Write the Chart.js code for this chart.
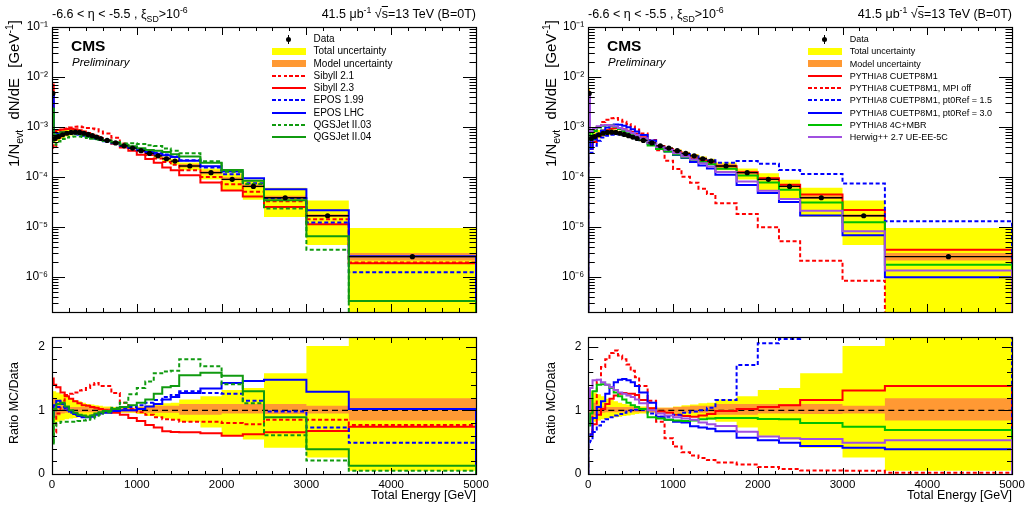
<!DOCTYPE html>
<html><head><meta charset="utf-8">
<script src="https://cdn.jsdelivr.net/npm/chart.js@4/dist/chart.umd.min.js"></script>
<style>
html,body{margin:0;padding:0;background:#fff;}
body{width:1033px;height:507px;overflow:hidden;position:relative;font-family:"Liberation Sans",Arial,Helvetica,sans-serif;color:#000;}
canvas{position:absolute;}
.t{position:absolute;white-space:nowrap;line-height:1;}
.top{font-size:12.5px;top:8px;}
.cms{font-weight:bold;font-size:15.5px;}
.pre{font-style:italic;font-size:11.5px;}
.yt{position:absolute;white-space:nowrap;font-size:12.5px;line-height:14px;transform-origin:0 0;transform:rotate(-90deg);text-align:right;}
.ytm{font-size:15px;word-spacing:6px;line-height:15px;}
sub,sup{font-size:70%;line-height:0;}
.leg{position:absolute;font-size:10px;}
.legR{font-size:9px;}
.row{position:relative;height:12.23px;line-height:12.23px;padding-left:42px;white-space:nowrap;}
.sym{position:absolute;left:0;top:0;width:34px;height:12.23px;}
.box{position:absolute;left:0;top:2.8px;width:34px;height:6.7px;}
.ln{position:absolute;left:0;top:5.1px;width:34px;height:2px;}
.dot{position:absolute;left:14.5px;top:3.6px;width:5px;height:5px;border-radius:50%;background:#000;}
.bar{position:absolute;left:16.5px;top:1.5px;width:1px;height:9px;background:#000;}
</style></head>
<body>
<canvas id="cLM" width="516" height="322" style="left:0;top:0"></canvas>
<canvas id="cLR" width="516" height="177" style="left:0;top:330px"></canvas>
<canvas id="cRM" width="517" height="322" style="left:516px;top:0"></canvas>
<canvas id="cRR" width="517" height="177" style="left:516px;top:330px"></canvas>

<div class="t top" style="left:52px">-6.6 &lt; η &lt; -5.5 , ξ<sub>SD</sub>&gt;10<sup>-6</sup></div>
<div class="t top" style="right:557px">41.5 μb<sup>-1</sup> √<span style="text-decoration:overline">s</span>=13 TeV (B=0T)</div>
<div class="t top" style="left:588px">-6.6 &lt; η &lt; -5.5 , ξ<sub>SD</sub>&gt;10<sup>-6</sup></div>
<div class="t top" style="right:21px">41.5 μb<sup>-1</sup> √<span style="text-decoration:overline">s</span>=13 TeV (B=0T)</div>

<div class="t cms" style="left:71px;top:38px">CMS</div>
<div class="t pre" style="left:72px;top:57px">Preliminary</div>
<div class="t cms" style="left:607px;top:38px">CMS</div>
<div class="t pre" style="left:608px;top:57px">Preliminary</div>

<div class="yt ytm" style="left:6px;top:180px;width:160px">1/N<sub>evt</sub> dN/dE [GeV<sup>-1</sup>]</div>
<div class="yt ytm" style="left:543px;top:180px;width:160px">1/N<sub>evt</sub> dN/dE [GeV<sup>-1</sup>]</div>
<div class="yt" style="left:7px;top:446px;width:84px">Ratio MC/Data</div>
<div class="yt" style="left:544px;top:446px;width:84px">Ratio MC/Data</div>

<div class="leg" style="left:271.5px;top:33.2px">
 <div class="row"><span class="sym"><i class="bar"></i><i class="dot"></i></span>Data</div>
 <div class="row"><span class="sym"><i class="box" style="background:#ffff00"></i></span>Total uncertainty</div>
 <div class="row"><span class="sym"><i class="box" style="background:#ff9933"></i></span>Model uncertainty</div>
 <div class="row"><span class="sym"><i class="ln" style="background:repeating-linear-gradient(to right,#ff0000 0 3.5px,transparent 3.5px 5.8px)"></i></span>Sibyll 2.1</div>
 <div class="row"><span class="sym"><i class="ln" style="background:#ff0000"></i></span>Sibyll 2.3</div>
 <div class="row"><span class="sym"><i class="ln" style="background:repeating-linear-gradient(to right,#0000ff 0 3.5px,transparent 3.5px 5.8px)"></i></span>EPOS 1.99</div>
 <div class="row"><span class="sym"><i class="ln" style="background:#0000ff"></i></span>EPOS LHC</div>
 <div class="row"><span class="sym"><i class="ln" style="background:repeating-linear-gradient(to right,#109a10 0 3.5px,transparent 3.5px 5.8px)"></i></span>QGSJet II.03</div>
 <div class="row"><span class="sym"><i class="ln" style="background:#109a10"></i></span>QGSJet II.04</div>
</div>

<div class="leg legR" style="left:807.7px;top:33.2px">
 <div class="row"><span class="sym"><i class="bar"></i><i class="dot"></i></span>Data</div>
 <div class="row"><span class="sym"><i class="box" style="background:#ffff00"></i></span>Total uncertainty</div>
 <div class="row"><span class="sym"><i class="box" style="background:#ff9933"></i></span>Model uncertainty</div>
 <div class="row"><span class="sym"><i class="ln" style="background:#ff0000"></i></span>PYTHIA8 CUETP8M1</div>
 <div class="row"><span class="sym"><i class="ln" style="background:repeating-linear-gradient(to right,#ff0000 0 3.5px,transparent 3.5px 5.8px)"></i></span>PYTHIA8 CUETP8M1, MPI off</div>
 <div class="row"><span class="sym"><i class="ln" style="background:repeating-linear-gradient(to right,#0000ff 0 3.5px,transparent 3.5px 5.8px)"></i></span>PYTHIA8 CUETP8M1, pt0Ref = 1.5</div>
 <div class="row"><span class="sym"><i class="ln" style="background:#0000ff"></i></span>PYTHIA8 CUETP8M1, pt0Ref = 3.0</div>
 <div class="row"><span class="sym"><i class="ln" style="background:#00c000"></i></span>PYTHIA8 4C+MBR</div>
 <div class="row"><span class="sym"><i class="ln" style="background:#a050e0"></i></span>Herwig++ 2.7 UE-EE-5C</div>
</div>

<script>
// ---------------- DATA ----------------
const binEdges = [0,20,50,100,150,200,250,300,350,400,450,500,550,600,700,800,900,1000,1100,1200,1300,1400,1500,1750,2000,2250,2500,3000,3500,5000];
const dataValues = [4.7e-3,5.9e-4,6.4e-4,7.0e-4,7.5e-4,7.8e-4,7.9e-4,7.8e-4,7.5e-4,7.1e-4,6.7e-4,6.3e-4,5.9e-4,5.4e-4,4.8e-4,4.2e-4,3.8e-4,3.37e-4,2.97e-4,2.65e-4,2.32e-4,2.08e-4,1.66e-4,1.22e-4,9.0e-5,6.5e-5,3.85e-5,1.68e-5,2.55e-6];
// relative uncertainty bands (ratio to data)
const totalUncLow  = [0.75,0.80,0.82,0.84,0.86,0.87,0.88,0.89,0.90,0.91,0.92,0.93,0.94,0.95,0.96,0.96,0.96,0.94,0.91,0.90,0.87,0.85,0.82,0.73,0.60,0.54,0.41,0.26,0.05];
const totalUncHigh = [1.30,1.30,1.28,1.25,1.22,1.18,1.16,1.14,1.12,1.10,1.09,1.08,1.07,1.06,1.05,1.04,1.04,1.06,1.08,1.09,1.11,1.12,1.17,1.22,1.32,1.35,1.58,2.01,3.77];
const modelUncLow  = [0.85,0.88,0.92,0.95,0.96,0.97,0.97,0.97,0.97,0.97,0.97,0.97,0.97,0.97,0.97,0.97,0.97,0.96,0.96,0.96,0.96,0.96,0.93,0.93,0.95,0.95,0.94,0.95,0.84];
const modelUncHigh = [1.20,1.18,1.12,1.08,1.06,1.05,1.05,1.05,1.05,1.05,1.05,1.05,1.04,1.04,1.04,1.04,1.04,1.05,1.06,1.07,1.07,1.07,1.10,1.10,1.10,1.10,1.10,1.07,1.19];
// MC / data ratios, left panel (cosmic-ray generators)
const ratioSibyll21 = [0.60,0.65,0.95,1.15,1.24,1.26,1.28,1.31,1.32,1.35,1.40,1.43,1.38,1.38,1.27,1.12,1.02,0.97,0.93,0.89,0.86,0.85,0.82,0.82,0.80,0.78,0.85,0.85,0.77];
const ratioSibyll23 = [1.50,1.40,1.36,1.28,1.22,1.18,1.14,1.11,1.08,1.07,1.05,1.04,1.02,1.00,0.96,0.93,0.88,0.83,0.77,0.73,0.67,0.66,0.655,0.64,0.60,0.625,0.655,0.675,0.74];
const ratioEpos199  = [0.90,1.00,1.05,1.05,1.00,0.96,0.93,0.91,0.90,0.90,0.92,0.94,0.96,0.98,1.01,1.03,1.05,1.08,1.12,1.16,1.21,1.24,1.30,1.27,1.26,1.15,0.98,0.73,0.49];
const ratioEposLHC  = [0.95,1.08,1.15,1.10,1.04,0.98,0.94,0.91,0.89,0.89,0.90,0.93,0.95,0.96,0.99,1.00,1.00,1.02,1.06,1.10,1.17,1.21,1.27,1.34,1.43,1.46,1.48,1.29,1.02];
const ratioQgs03    = [0.50,0.75,0.80,0.82,0.82,0.82,0.82,0.83,0.84,0.85,0.87,0.90,0.93,0.97,1.04,1.12,1.25,1.35,1.45,1.58,1.61,1.62,1.80,1.69,1.41,1.11,0.61,0.21,0.05];
const ratioQgs04    = [0.48,1.02,1.10,1.12,1.06,1.00,0.96,0.93,0.92,0.90,0.92,0.95,0.97,0.99,1.02,1.05,1.08,1.12,1.17,1.26,1.36,1.38,1.55,1.59,1.54,1.30,0.89,0.39,0.13];
// MC / data ratios, right panel (PYTHIA8 / Herwig++)
const ratioP8       = [0.62,0.62,0.78,0.93,1.02,1.10,1.18,1.23,1.26,1.27,1.26,1.26,1.24,1.16,1.03,0.98,0.96,0.93,0.91,0.90,0.92,0.94,0.99,1.02,1.05,1.08,1.16,1.31,1.38];
const ratioP8MPIoff = [0.55,0.62,1.00,1.45,1.68,1.80,1.90,1.94,1.86,1.80,1.72,1.62,1.52,1.38,1.15,0.82,0.56,0.43,0.34,0.29,0.25,0.22,0.18,0.15,0.11,0.08,0.055,0.05,0.02];
const ratioP8pt15   = [0.50,0.52,0.66,0.76,0.82,0.86,0.89,0.92,0.94,0.96,0.98,1.00,1.01,1.01,0.95,0.90,0.90,0.93,0.96,0.98,1.00,1.04,1.16,1.71,2.05,2.12,3.0,4.4,5.1];
const ratioP8pt30   = [0.60,0.62,0.88,1.05,1.14,1.26,1.36,1.44,1.48,1.49,1.47,1.44,1.38,1.28,1.12,0.90,0.85,0.82,0.81,0.75,0.73,0.71,0.67,0.57,0.53,0.49,0.44,0.41,0.39];
const ratioMBR      = [0.76,0.95,1.30,1.40,1.41,1.40,1.35,1.28,1.22,1.17,1.12,1.08,1.05,1.02,0.89,0.87,0.85,0.84,0.83,0.84,0.86,0.87,0.88,0.88,0.865,0.86,0.80,0.74,0.69];
const ratioHerwig   = [1.00,1.35,1.47,1.48,1.44,1.40,1.36,1.32,1.28,1.26,1.23,1.21,1.17,1.11,1.00,0.95,0.92,0.89,0.87,0.85,0.81,0.78,0.755,0.665,0.59,0.56,0.55,0.49,0.53];
// tick labels
const xTickValues = [0,1000,2000,3000,4000,5000];
const mainYTickExponents = [-6,-5,-4,-3,-2,-1];
const ratioYTickValues = [0,1,2];
const ratioReference = [1,1];

// ---------------- helpers ----------------
const SUP = {'-':'\u207B','0':'\u2070','1':'\u00B9','2':'\u00B2','3':'\u00B3','4':'\u2074','5':'\u2075','6':'\u2076','7':'\u2077','8':'\u2078','9':'\u2079'};
const supStr = s => String(s).split('').map(c => SUP[c] || c).join('');
const nB = binEdges.length - 1;
const xMin = binEdges[0], xMax = binEdges[nB];

function stepPts(vals, base) {
  const p = [];
  if (base !== undefined) p.push({x: binEdges[0], y: base});
  vals.forEach((v, i) => p.push({x: binEdges[i], y: v}));
  p.push({x: binEdges[nB], y: vals[nB - 1]});
  if (base !== undefined) p.push({x: binEdges[nB], y: base});
  return p;
}
const times = (a, b) => a.map((v, i) => v * b[i]);

const COL = {yellow:'#ffff00', orange:'#ff9933', red:'#ff0000', blue:'#0000ff', greenL:'#109a10', greenR:'#00c000', purple:'#a050e0'};
const DASH = [4, 2.5];

function lineDS(label, pts, color, dashed, order) {
  return {label, data: pts, borderColor: color, borderWidth: 2, borderDash: dashed ? DASH : [],
    stepped: 'before', pointRadius: 0, fill: false, order, borderCapStyle: 'butt', borderJoinStyle: 'miter', tension: 0};
}
function bandDS(lo, hi, color, order) {
  return [
    {label:'hi', data: stepPts(hi), stepped:'before', borderWidth: 0, borderColor:'rgba(0,0,0,0)', backgroundColor: color, pointRadius: 0, fill: '+1', order},
    {label:'lo', data: stepPts(lo), stepped:'before', borderWidth: 0, borderColor:'rgba(0,0,0,0)', pointRadius: 0, fill: false, order: order - 1}
  ];
}
const noPad = s => { s.paddingTop = 0; s.paddingBottom = 0; s.paddingLeft = 0; s.paddingRight = 0; };

// ROOT-style frame with inward ticks on all four sides
const rootFrame = {
  id: 'rootFrame',
  afterDatasetsDraw(chart, args, o) {
    const {ctx, chartArea: a, scales: {x, y}} = chart;
    ctx.save();
    ctx.strokeStyle = '#000'; ctx.lineWidth = 1;
    ctx.beginPath();
    for (let v = xMin; v <= xMax + 1e-9; v += o.xMinorStep) {
      const px = Math.round(x.getPixelForValue(v)) + 0.5;
      const len = (Math.abs(v % o.xMajorStep) < 1e-6) ? o.xMaj : o.xMin;
      ctx.moveTo(px, a.bottom); ctx.lineTo(px, a.bottom - len);
      ctx.moveTo(px, a.top); ctx.lineTo(px, a.top + len);
    }
    const yt = [];
    if (o.log) {
      for (let e = -7; e <= -1; e++) for (let m = 1; m <= 9; m++) {
        const v = m * Math.pow(10, e);
        if (v >= y.min * 0.999 && v <= y.max * 1.001) yt.push([v, m === 1]);
      }
    } else {
      for (let v = 0; v <= y.max + 1e-9; v += o.yMinorStep) yt.push([v, Math.abs(v - Math.round(v)) < 1e-6]);
    }
    yt.forEach(([v, maj]) => {
      const py = Math.round(y.getPixelForValue(v)) + 0.5;
      const len = maj ? o.yMaj : o.yMin;
      ctx.moveTo(a.left, py); ctx.lineTo(a.left + len, py);
      ctx.moveTo(a.right, py); ctx.lineTo(a.right - len, py);
    });
    ctx.stroke();
    ctx.lineWidth = 1.2;
    ctx.strokeRect(Math.round(a.left) + 0.5, Math.round(a.top) + 0.5, Math.round(a.right - a.left), Math.round(a.bottom - a.top));
    ctx.restore();
  }
};

const FONT = {family: '"Liberation Sans", Arial, Helvetica, sans-serif'};

function makeMain(id, leftW, rightPad, mcList) {
  const ds = [];
  ds.push({label:'Data', data: dataValues.map((v, i) => ({x: (binEdges[i] + binEdges[i + 1]) / 2, y: v})),
    showLine: false, pointRadius: 2.6, pointBackgroundColor: '#000', pointBorderWidth: 0, order: 1});
  const bars = [];
  dataValues.forEach((v, i) => { bars.push({x: binEdges[i], y: v}, {x: binEdges[i + 1], y: v}, {x: binEdges[i + 1], y: null}); });
  ds.push({label:'DataBins', data: bars, borderColor:'#000', borderWidth: 1.3, pointRadius: 0, spanGaps: false, fill: false, order: 2});
  mcList.forEach((m, k) => ds.push(lineDS(m.label, stepPts(times(dataValues, m.r), 1e-9), m.c, m.d, 10 - k)));
  ds.push(...bandDS(times(dataValues, modelUncLow), times(dataValues, modelUncHigh), COL.orange, 18));
  ds.push(...bandDS(times(dataValues, totalUncLow), times(dataValues, totalUncHigh), COL.yellow, 20));
  return new Chart(document.getElementById(id), {
    type: 'line',
    data: {datasets: ds},
    options: {
      responsive: false, animation: false, devicePixelRatio: 1, events: [],
      layout: {padding: {left: 0, right: rightPad, top: 27, bottom: 10}},
      plugins: {legend: {display: false}, tooltip: {enabled: false},
        rootFrame: {xMinorStep: 200, xMajorStep: 1000, xMaj: 8, xMin: 4, log: true, yMaj: 13, yMin: 6.5}},
      scales: {
        x: {type: 'linear', min: xMin, max: xMax, display: false},
        y: {type: 'logarithmic', min: 2.0e-7, max: 0.1,
          afterBuildTicks: s => { s.ticks = mainYTickExponents.map(e => ({value: Math.pow(10, e)})); },
          afterFit: s => { s.width = leftW; noPad(s); },
          grid: {display: false, drawTicks: false}, border: {display: false},
          ticks: {padding: 4, color: '#000', font: {...FONT, size: 12}, autoSkip: false,
            callback: v => '10' + supStr(Math.round(Math.log10(v)))}}
      }
    },
    plugins: [rootFrame]
  });
}

function makeRatio(id, leftW, rightPad, mcList) {
  const ds = [];
  ds.push({label:'one', data: [{x: xMin, y: ratioReference[0]}, {x: xMax, y: ratioReference[1]}], borderColor:'#000', borderWidth: 1.2,
    borderDash: [6, 4], pointRadius: 0, fill: false, order: 16});
  mcList.forEach((m, k) => ds.push(lineDS(m.label, stepPts(m.r, 0), m.c, m.d, 10 - k)));
  ds.push(...bandDS(modelUncLow, modelUncHigh, COL.orange, 18));
  ds.push(...bandDS(totalUncLow, totalUncHigh, COL.yellow, 20));
  return new Chart(document.getElementById(id), {
    type: 'line',
    data: {datasets: ds},
    options: {
      responsive: false, animation: false, devicePixelRatio: 1, events: [],
      layout: {padding: {left: 0, right: rightPad, top: 7, bottom: 0}},
      plugins: {legend: {display: false}, tooltip: {enabled: false},
        rootFrame: {xMinorStep: 200, xMajorStep: 1000, xMaj: 6, xMin: 3, log: false, yMinorStep: 0.2, yMaj: 10, yMin: 5}},
      scales: {
        x: {type: 'linear', min: xMin, max: xMax,
          afterBuildTicks: s => { s.ticks = xTickValues.map(v => ({value: v})); },
          afterFit: s => { s.height = 33; noPad(s); },
          grid: {display: false, drawTicks: false}, border: {display: false},
          ticks: {padding: 4, color: '#000', font: {...FONT, size: 11.5}, maxRotation: 0, autoSkip: false, callback: v => String(v)},
          title: {display: true, text: 'Total Energy [GeV]', align: 'end', color: '#000', font: {...FONT, size: 12.5}, padding: {top: 0, bottom: 4}}},
        y: {type: 'linear', min: 0, max: 2.15,
          afterBuildTicks: s => { s.ticks = ratioYTickValues.map(v => ({value: v})); },
          afterFit: s => { s.width = leftW; noPad(s); },
          grid: {display: false, drawTicks: false}, border: {display: false},
          ticks: {padding: 7, color: '#000', font: {...FONT, size: 12}, autoSkip: false, callback: v => String(v)}}
      }
    },
    plugins: [rootFrame]
  });
}

const leftMC = [
  {label:'Sibyll 2.1', r: ratioSibyll21, c: COL.red, d: true},
  {label:'Sibyll 2.3', r: ratioSibyll23, c: COL.red, d: false},
  {label:'EPOS 1.99', r: ratioEpos199, c: COL.blue, d: true},
  {label:'EPOS LHC', r: ratioEposLHC, c: COL.blue, d: false},
  {label:'QGSJet II.03', r: ratioQgs03, c: COL.greenL, d: true},
  {label:'QGSJet II.04', r: ratioQgs04, c: COL.greenL, d: false}
];
const rightMC = [
  {label:'PYTHIA8 CUETP8M1', r: ratioP8, c: COL.red, d: false},
  {label:'PYTHIA8 CUETP8M1, MPI off', r: ratioP8MPIoff, c: COL.red, d: true},
  {label:'PYTHIA8 CUETP8M1, pt0Ref = 1.5', r: ratioP8pt15, c: COL.blue, d: true},
  {label:'PYTHIA8 CUETP8M1, pt0Ref = 3.0', r: ratioP8pt30, c: COL.blue, d: false},
  {label:'PYTHIA8 4C+MBR', r: ratioMBR, c: COL.greenR, d: false},
  {label:'Herwig++ 2.7 UE-EE-5C', r: ratioHerwig, c: COL.purple, d: false}
];

makeMain('cLM', 52, 40, leftMC);
makeRatio('cLR', 52, 40, leftMC);
makeMain('cRM', 72.3, 21, rightMC);
makeRatio('cRR', 72.3, 21, rightMC);
</script>
</body></html>
